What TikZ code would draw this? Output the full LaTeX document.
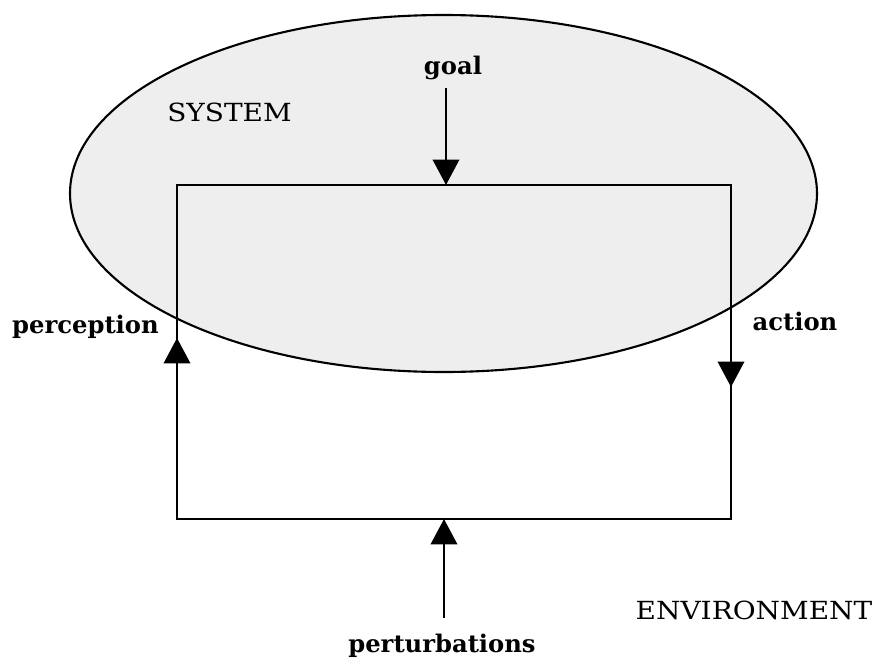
\documentclass[tikz,border=0pt]{standalone}
\usepackage{fontspec}
\setmainfont{DejaVu Serif}
\newfontfamily\capsfont[FakeStretch=1.12]{DejaVu Serif}
\usepackage{xcolor}
\usepackage{tikz}
\usetikzlibrary{arrows.meta}
\definecolor{sysfill}{HTML}{EEEEEE}
\tikzset{loopline/.style={line width=1.7pt},
  tipline/.style={line width=1.6pt,-{Triangle[width=15pt,length=14.5pt]}},
  lbl/.style={font=\bfseries\fontsize{13.8}{16}\selectfont,inner sep=1pt},
  area/.style={font=\capsfont\fontsize{14.2}{16}\selectfont,inner sep=1pt}}

\begin{document}
\begin{tikzpicture}[x=0.02cm,y=-0.02cm]
\useasboundingbox (0,0) rectangle (880,659);
\draw[line width=1.2pt,fill=sysfill] (443.5,193.5) ellipse [x radius=373.5,y radius=178.5];
\coordinate (tl) at (177,185); \coordinate (tr) at (731,185);
\coordinate (bl) at (177,519); \coordinate (br) at (731,519);
\coordinate (ptip) at (177,338); \coordinate (atip) at (731,387);
\coordinate (gtip) at (446,185); \coordinate (etip) at (444,519);
\coordinate (gstart) at (446,88); \coordinate (estart) at (444,618);
\node[area] (sys) at (229.5,112) {SYSTEM};
\node[area] (env) at (754,610) {ENVIRONMENT};
\node[lbl] (goal) at (453,68) {goal};
\node[lbl] (perc) at (85.5,327) {perception};
\node[lbl] (act) at (795,321) {action};
\node[lbl] (pert) at (442,646) {perturbations};
\draw[loopline] (bl) -- (tl) -- (tr) -- (br) -- cycle;
\draw[tipline] (bl) -- (ptip); \draw[tipline] (tr) -- (atip);
\draw[tipline] (gstart) -- (gtip);
\draw[tipline] (estart) -- (etip);
\end{tikzpicture}
\end{document}
